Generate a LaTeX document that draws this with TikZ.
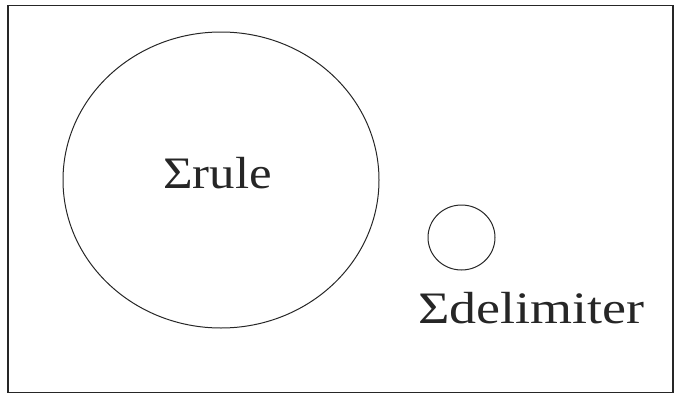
\documentclass[tikz,border=0pt]{standalone}
\usepackage{fontspec}
\setmainfont{Liberation Serif}
\usetikzlibrary{shapes.geometric}
\begin{document}
\begin{tikzpicture}[x=1pt,y=-1pt,
  ring/.style={draw=black!85,line width=1pt,ellipse,inner sep=0pt},
  lbl/.style={inner sep=0pt,anchor=base west,font=\fontsize{45}{50}\selectfont,text=black!85}]
\useasboundingbox (0,0) rectangle (675,394);
\node[draw=black!85,line width=1.6pt,minimum width=665pt,minimum height=387pt,inner sep=0pt,anchor=north west] (frame) at (7,4.5) {};
\node[ring,minimum width=316pt,minimum height=296pt] (big) at (221,180) {};
\node[ring,minimum width=67pt,minimum height=65pt] (small) at (461.5,237.5) {};
\node[lbl] (rule) at (163,188) {\scalebox{1.13}[1]{Σrule}};
\node[lbl] (delim) at (418,323) {\scalebox{1.2}[1]{Σdelimiter}};
\end{tikzpicture}
\end{document}
